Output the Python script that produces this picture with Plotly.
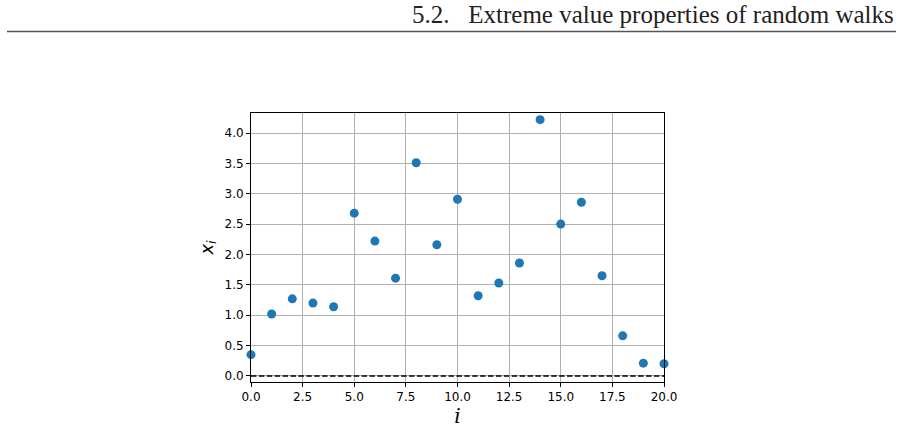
import plotly.graph_objects as go

steps = list(range(21))
values = [0.35, 1.02, 1.27, 1.20, 1.14, 2.68, 2.22, 1.61, 3.51, 2.16, 2.91,
          1.32, 1.53, 1.86, 4.22, 2.50, 2.86, 1.65, 0.66, 0.21, 0.20]
header_text = "5.2.\u2002 Extreme value properties of random walks"
x_ticks = [0, 2.5, 5, 7.5, 10, 12.5, 15, 17.5, 20]
y_ticks = [0, 0.5, 1, 1.5, 2, 2.5, 3, 3.5, 4]

fig = go.Figure()
fig.add_trace(go.Scatter(
    x=steps, y=values, mode="markers",
    marker=dict(color="#1f77b4", size=9, line=dict(width=0)),
    showlegend=False, cliponaxis=False,
))
fig.add_hline(y=0, line=dict(color="black", width=1.5, dash="5.5px,2.4px"))

axis_common = dict(
    showgrid=True, gridcolor="#b0b0b0", gridwidth=1,
    showline=True, linecolor="black", linewidth=1, mirror=True,
    ticks="outside", ticklen=4, tickcolor="black", tickwidth=1,
    tickfont=dict(family="DejaVu Sans", size=12, color="black"),
    zeroline=False, automargin=False,
)
fig.update_xaxes(range=[0, 20], tickvals=x_ticks, tickformat=".1f",
                 title=dict(text="<i>i</i>", font=dict(family="DejaVu Serif", size=20, color="black"), standoff=4),
                 **axis_common)
fig.update_yaxes(range=[-0.1, 4.33], tickvals=y_ticks, tickformat=".1f",
                 title=dict(text="<i>x</i><sub><i>i</i></sub>", font=dict(family="DejaVu Sans", size=18, color="black"), standoff=6),
                 **axis_common)

fig.add_annotation(
    xref="paper", yref="paper", x=(896 - 251) / 413, y=1 + (113 - 15) / 269,
    xanchor="right", yanchor="middle", showarrow=False,
    text=header_text, font=dict(family="Liberation Serif", size=25, color="#222222"),
)
fig.add_shape(type="line", xref="paper", yref="paper",
              x0=(7 - 251) / 413, x1=(896 - 251) / 413,
              y0=1 + (113 - 31.5) / 269, y1=1 + (113 - 31.5) / 269,
              line=dict(color="#555555", width=1.5))

fig.update_layout(
    width=903, height=428,
    margin=dict(l=251, r=239, t=113, b=46),
    paper_bgcolor="white", plot_bgcolor="white",
    font=dict(family="DejaVu Sans", color="black"),
)
fig.write_html("out.html")
